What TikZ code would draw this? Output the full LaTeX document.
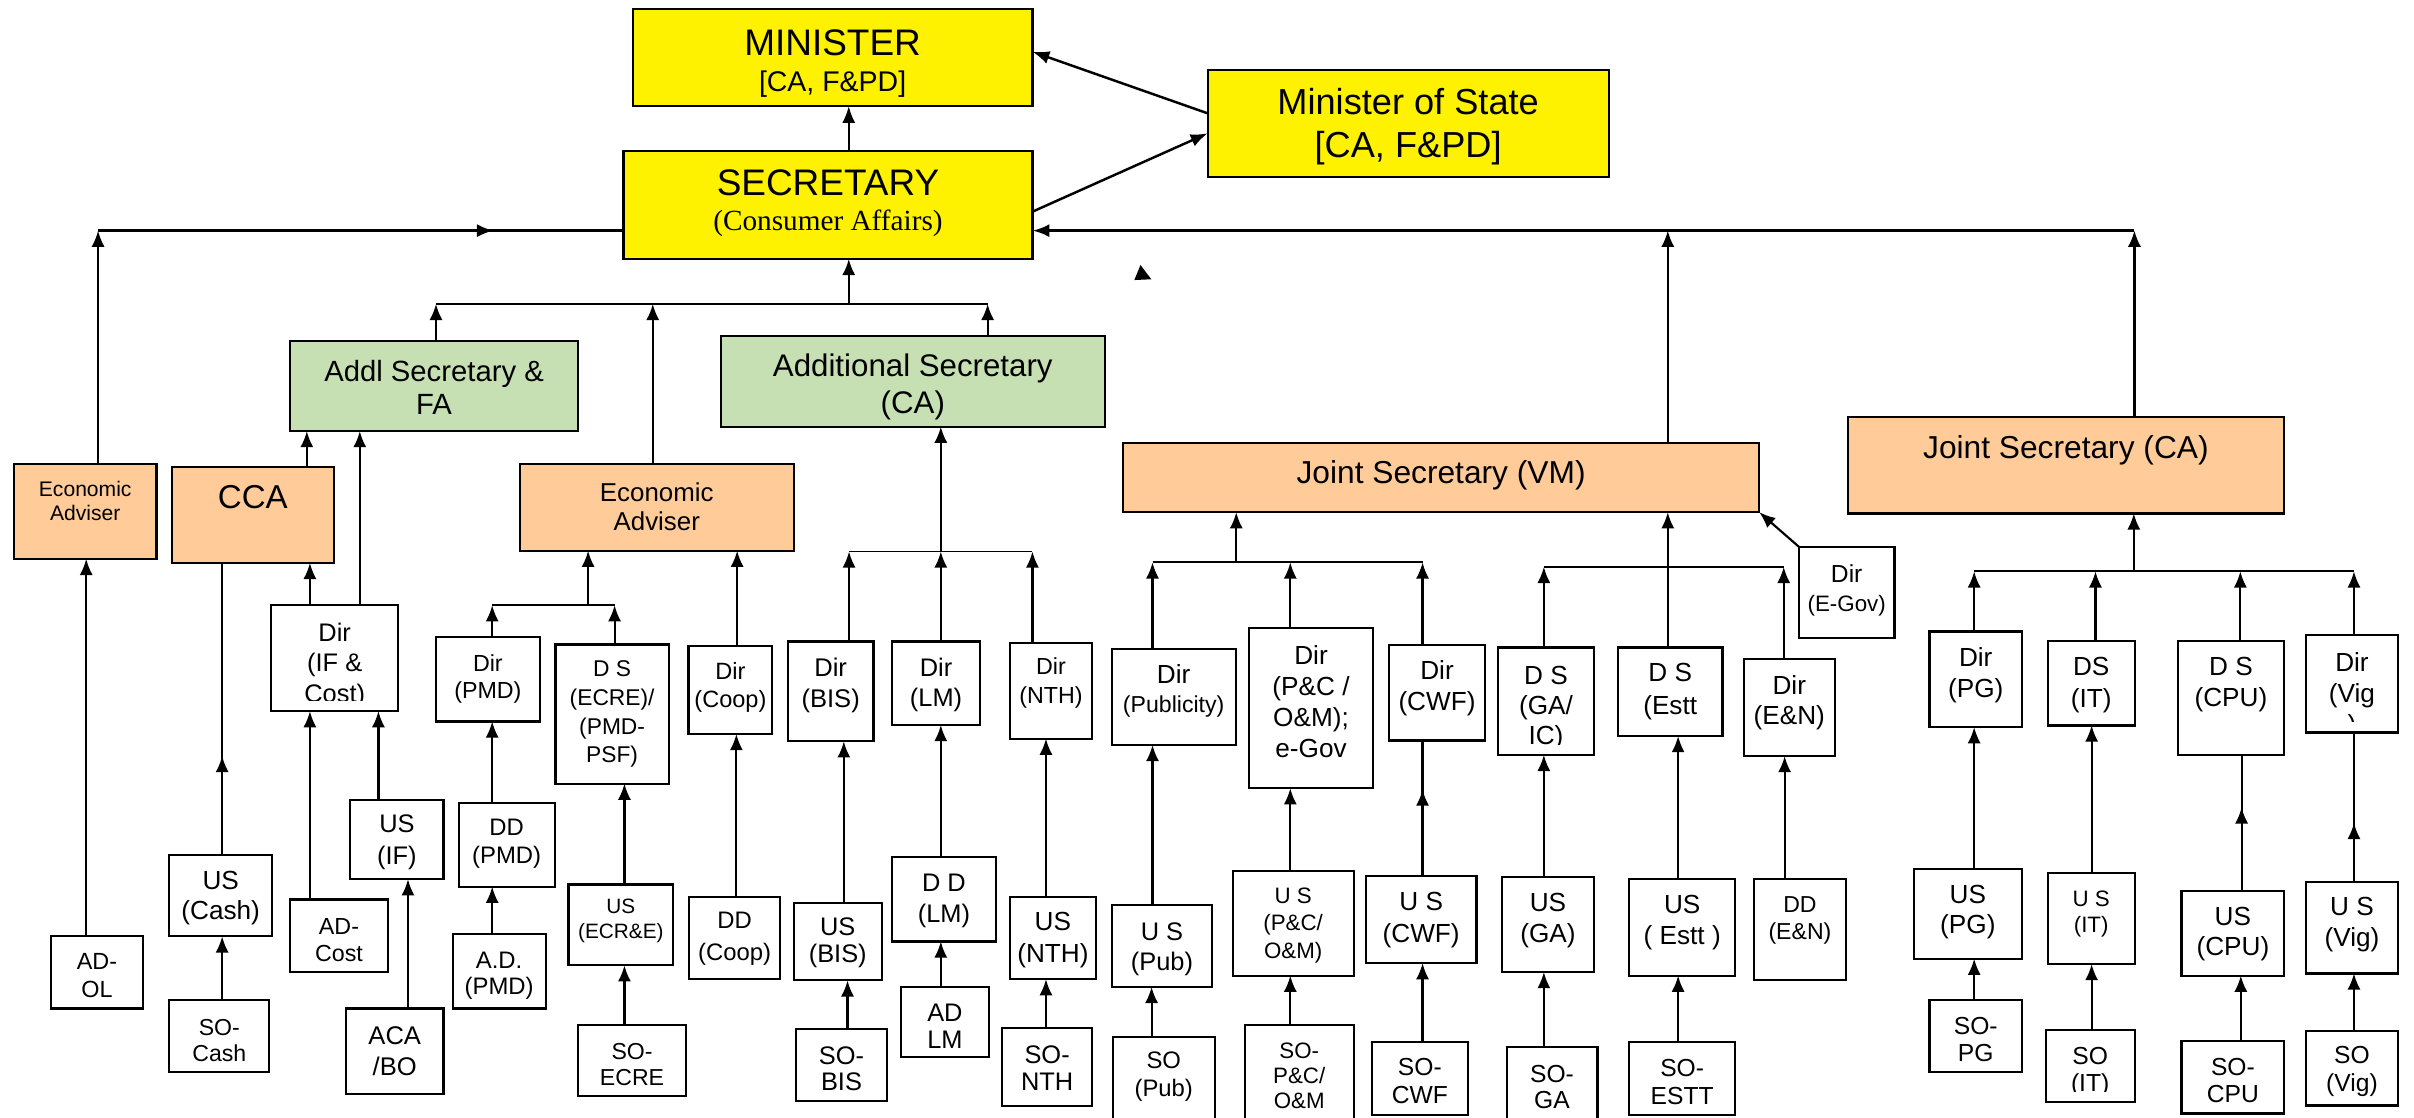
\documentclass[tikz,border=0pt]{standalone}
\usepackage{fontspec}
\setmainfont{Liberation Sans}
\newfontfamily\serifx{Liberation Serif}
\usetikzlibrary{arrows.meta}
\definecolor{green1}{HTML}{C6E0B4}
\definecolor{orange1}{HTML}{FFCC99}
\tikzset{
  box/.style={draw=black, line width=1.4pt, fill=white, inner sep=0pt, outer sep=0pt},
  yel/.style={fill=yellow},
  grn/.style={fill=green1},
  org/.style={fill=orange1},
  txt/.style={inner sep=0pt, align=center, yshift=-1.2pt},
  fs/.style 2 args={font=\fontsize{#1}{#2}\selectfont},
  arr/.style={line width=1.4pt, -{Latex[length=10.5pt,width=8.5pt]}},
  big/.style={line width=1.6pt, -{Latex[length=11pt,width=8.5pt]}},
  ln/.style={line width=1.4pt},
  thk/.style={line width=2pt},
  bus/.style={line width=1.2pt},
}
\newcommand\bx[9]{%
  \node[box,#6,minimum width={#4-#2},minimum height={#5-#3}] (#1) at ({(#2+#4)/2},{(#3+#5)/2}) {};
  \node[txt,#7] (#1-t) at ({(#2+#4)/2},#8) {#9};}
\newcommand\bxc[9]{%
  \node[box,#6,minimum width={#4-#2},minimum height={#5-#3}] (#1) at ({(#2+#4)/2},{(#3+#5)/2}) {};
  \begin{scope}
  \clip (#2,#3) rectangle (#4,{#5-7});
  \node[txt,#7] (#1-t) at ({(#2+#4)/2},#8) {#9};
  \end{scope}}
\begin{document}
\begin{tikzpicture}[x=1pt,y=-1pt]
\useasboundingbox (0,0) rectangle (1568,726);
% ---------- boxes: top ----------
\bx{min}{411}{6.1}{670.6}{68.8}{yel}{fs={18.5}{23.3}}{40}{{\fontsize{24}{24}\selectfont MINISTER}\\{}[CA, F\&PD]}
\bx{sec}{405}{97.9}{670.6}{168.2}{yel}{fs={19}{22.6}}{131}{{\fontsize{24}{24}\selectfont SECRETARY}\\{\serifx (Consumer Affairs)}}
\bx{mos}{784.4}{45.5}{1044.9}{114.8}{yel}{fs={23.5}{27.5}}{81}{Minister of State\\{}[CA, F\&PD]}
\bx{asfa}{188.5}{221.3}{375.4}{280}{grn}{fs={19}{21.7}}{250.5}{Addl Secretary \&\\FA}
\bx{asca}{468.1}{218.2}{717.7}{277.1}{grn}{fs={20.3}{24.3}}{250}{Additional Secretary\\(CA)}
\bx{ea1}{9}{301.5}{101.7}{363}{org}{fs={13.7}{15.4}}{324}{Economic\\Adviser}
\bx{cca}{111.5}{303.2}{217}{365.6}{org}{fs={21.5}{25}}{322}{CCA}
\bx{ea2}{337.7}{301.5}{515.5}{357.7}{org}{fs={16.8}{18.8}}{328}{Economic\\Adviser}
\bx{jsvm}{729.4}{287.8}{1142.7}{332.7}{org}{fs={20.6}{24}}{307.5}{Joint Secretary (VM)}
\bx{jsca}{1200.1}{271}{1483.7}{333.5}{org}{fs={20.6}{24}}{291.3}{Joint Secretary (CA)}
% ---------- left group ----------
\bx{adol}{32.9}{608.2}{93}{655.1}{}{fs={15.2}{17.7}}{632.5}{AD-\\OL}
\bx{uscash}{110}{555.4}{176.7}{608.2}{}{fs={17}{19.7}}{582}{US\\(Cash)}
\bx{socash}{110}{649.5}{174.9}{696.3}{}{fs={15}{16.9}}{674.5}{SO-\\Cash}
\bxc{dirif}{176.2}{392.8}{258.6}{461.9}{}{fs={16.5}{19.6}}{431}{Dir\\(IF \&\\Cost)}
\bx{adcost}{188.2}{584.3}{252.2}{631.2}{}{fs={15.1}{17.7}}{609.5}{AD-\\Cost}
\bx{usif}{227.5}{519.4}{288.1}{571.1}{}{fs={16.5}{20.5}}{546}{US\\(IF)}
\bx{acabo}{224.7}{655.1}{288.1}{710.4}{}{fs={16.6}{19.7}}{681.5}{ACA\\/BO}
\bx{dirpmd}{283}{413.8}{350.8}{468.6}{}{fs={15.1}{17.7}}{439.8}{Dir\\(PMD)}
\bx{ddpmd}{297.9}{521.7}{360.3}{575.9}{}{fs={15.5}{18.3}}{546.9}{DD\\(PMD)}
\bx{adpmd}{294}{606.8}{354.4}{655.1}{}{fs={15.5}{16.9}}{632.7}{A.D.\\(PMD)}
\bx{dsecre}{360.8}{418.6}{434.4}{509}{}{fs={14.8}{18.7}}{462.7}{D S\\(ECRE)/\\(PMD-\\PSF)}
\bx{usecre}{369.3}{574.5}{437.2}{627}{}{fs={13.5}{16}}{597.1}{US\\(ECR\&E)}
\bx{soecre}{375.4}{665.5}{445.7}{712.1}{}{fs={15}{17.4}}{690.2}{SO-\\ECRE}
\bx{dircoop}{447.2}{419.5}{501.7}{476.8}{}{fs={15.3}{18.3}}{445.2}{Dir\\(Coop)}
\bx{ddcoop}{447.5}{582.6}{506.8}{636}{}{fs={15.5}{20.5}}{608.4}{DD\\(Coop)}
\bx{dirbis}{511.7}{416.7}{567.4}{481.5}{}{fs={16.6}{20.5}}{444}{Dir\\(BIS)}
\bx{dirlm}{579.2}{416.7}{636.8}{470.9}{}{fs={16.5}{19.7}}{443.7}{Dir\\(LM)}
\bx{dirnth}{656}{417.8}{709.4}{479.8}{}{fs={15.1}{18.8}}{442.6}{Dir\\(NTH)}
\bx{usbis}{515.5}{586.3}{572.8}{636.8}{}{fs={16.5}{17.7}}{611.2}{US\\(BIS)}
\bx{sobis}{516.8}{668.3}{576.4}{714.9}{}{fs={16.5}{17.5}}{693}{SO-\\BIS}
\bx{ddlm}{579.2}{556.5}{647}{611.5}{}{fs={16.5}{20.3}}{583.8}{D D\\(LM)}
\bx{adlm}{585.1}{641}{642.4}{686.8}{}{fs={16.5}{17.7}}{665.5}{AD\\LM}
\bx{usnth}{655.8}{582.6}{712}{636}{}{fs={17}{21}}{609.5}{US\\(NTH)}
\bx{sonth}{650.9}{667.7}{709.4}{718.3}{}{fs={16.5}{17.4}}{692.5}{SO-\\NTH}
% ---------- middle group ----------
\bx{dirpub}{722.1}{421.4}{802.6}{483.9}{}{fs={17}{18.8}}{447.6}{Dir\\{\fontsize{15}{15}\selectfont (Publicity)}}
\bx{dirpc}{811.3}{407.8}{891.8}{512}{}{fs={17}{20.1}}{454.7}{Dir\\(P\&C /\\O\&M);\\e-Gov}
\bx{dircwf}{902.1}{418.8}{964.7}{481}{}{fs={17}{20.3}}{445.8}{Dir\\(CWF)}
\bx{uspub}{722.1}{588}{787.4}{641}{}{fs={16.5}{19.6}}{615.2}{U S\\(Pub)}
\bx{sopub}{722.8}{673.3}{789}{732}{}{fs={15.5}{18.2}}{698.3}{SO\\(Pub)}
\bx{uspc}{800.7}{565.5}{879.2}{633.7}{}{fs={14.5}{18}}{599.8}{U S\\(P\&C/\\O\&M)}
\bx{sopc}{808.6}{665.5}{879.2}{732}{}{fs={14.5}{16.2}}{697.3}{SO-\\P\&C/\\O\&M}
\bx{uscwf}{887.2}{569.2}{959}{625.6}{}{fs={17}{20.8}}{596.4}{U S\\(CWF)}
\bx{socwf}{891.1}{676.8}{953.4}{724}{}{fs={16}{18.2}}{701}{SO-\\CWF}
\bxc{dsga}{973}{420.6}{1035.3}{490.3}{}{fs={17}{19.5}}{459}{D S\\(GA/\\IC)}
\bx{dsestt}{1050.9}{420.6}{1118.8}{478.1}{}{fs={17}{20.9}}{448}{D S\\(Estt}
\bx{diren}{1132.7}{428.1}{1191.7}{491.1}{}{fs={17}{19.9}}{455.2}{Dir\\(E\&N)}
\bx{diregov}{1168.5}{355.2}{1230.5}{414.2}{}{fs={16}{18.8}}{382}{Dir\\{\fontsize{14.5}{14.5}\selectfont (E-Gov)}}
\bx{usga}{975.6}{569.8}{1035.3}{631.4}{}{fs={17}{20.2}}{596.7}{US\\(GA)}
\bx{soga}{978.6}{680}{1037.6}{732}{}{fs={16}{17.4}}{704.8}{SO-\\GA}
\bx{usestt}{1058.2}{571.2}{1127.1}{633.7}{}{fs={17}{20.3}}{598.2}{US\\( Estt )}
\bx{soestt}{1058.2}{676.8}{1127.1}{724}{}{fs={16}{18.2}}{701.5}{SO-\\ESTT}
\bx{dden}{1139.3}{571.2}{1199}{636.3}{}{fs={15}{17.4}}{596.7}{DD\\(E\&N)}
% ---------- right group ----------
\bx{dirpg}{1253.3}{410.2}{1313.3}{472.3}{}{fs={17}{19.7}}{437.4}{Dir\\(PG)}
\bx{dsit}{1330.1}{416.5}{1386.5}{471.2}{}{fs={17}{20.8}}{443.7}{DS\\(IT)}
\bx{dscpu}{1414.5}{416.5}{1483.7}{490.3}{}{fs={17}{20.2}}{443.4}{D S\\(CPU)}
\bxc{dirvig}{1497.7}{412.5}{1557.7}{475.8}{}{fs={17}{20.2}}{450.5}{Dir\\(Vig\\)}
\bx{uspg}{1243.1}{564.3}{1313.3}{622.7}{}{fs={17}{19.6}}{591.2}{US\\(PG)}
\bx{sopg}{1253.3}{649.6}{1313.3}{696.4}{}{fs={16}{17.4}}{674}{SO-\\PG}
\bx{usit}{1330.1}{567.2}{1386.5}{626.2}{}{fs={14.5}{17.3}}{592.4}{U S\\(IT)}
\bxc{soit}{1328.8}{669}{1386.5}{715.8}{}{fs={16}{17.9}}{695}{SO\\(IT)}
\bx{uscpu}{1417}{578.8}{1483.7}{633.7}{}{fs={17}{19.7}}{605.7}{US\\(CPU)}
\bx{socpu}{1417}{676.2}{1483.7}{723.3}{}{fs={16}{17.9}}{700.7}{SO-\\CPU}
\bx{usvig}{1497.7}{572.7}{1557.7}{632.3}{}{fs={17}{19.6}}{599.3}{U S\\(Vig)}
\bx{sovig}{1497.7}{669.6}{1557.7}{718.1}{}{fs={16}{18.2}}{694.6}{SO\\(Vig)}
% ---------- connectors: top ----------
\draw[big] (551.3,0 |- sec.north) -- (551.3,0 |- min.south);
\draw[big] (mos.west |- 0,73.6) -- (min.east |- 0,33.6);
\draw[big] (sec.east |- 0,137.5) -- (mos.west |- 0,86.6);
\coordinate (jl) at (63.7,149.8);
\coordinate (jr) at (1386.4,149.8);
\draw[thk] (jl) -- (sec.west |- jl);
\draw[thk,-{Latex[length=11pt,width=8.5pt]}] (jl) -- (320.8,149.8);
\draw[arr] (ea1.north -| jl) -- (jl);
\draw[thk,-{Latex[length=11pt,width=8.5pt]}] (jr) -- (sec.east |- jr);
\draw[arr] (1083.3,0 |- jsvm.north) -- (1083.3,0 |- jr);
\draw[arr] (jsca.north -| jr) -- (jr);
\fill (740.8,172.1) -- (736.8,181.9) -- (747.8,181.4) -- cycle;
\coordinate (sb) at (551.3,197.4);
\coordinate (b1l) at (283.2,197.4);
\coordinate (b1r) at (641.5,197.4);
\draw[arr] (sb) -- (sec.south -| sb);
\draw[ln] (b1l) -- (b1r);
\draw[arr] (asfa.north -| b1l) -- (b1l);
\draw[arr] (424,0 |- ea2.north) -- (424,197.4);
\draw[arr] (asca.north -| b1r) -- (b1r);
% ---------- left ----------
\draw[arr] (56,0 |- adol.north) -- (56,0 |- ea1.south);
\draw[arr] (199.3,0 |- cca.north) -- (199.3,0 |- asfa.south);
\draw[arr] (201.3,0 |- dirif.north) -- (201.3,0 |- cca.south);
\draw[arr] (233.7,0 |- dirif.north) -- (233.7,0 |- asfa.south);
\draw[ln] (144.3,0 |- uscash.north) -- (144.3,0 |- cca.south);
\draw[arr] (144.3,0 |- uscash.north) -- (144.3,491);
\draw[arr] (144.3,0 |- socash.north) -- (144.3,0 |- uscash.south);
\draw[arr] (201.3,0 |- adcost.north) -- (201.3,0 |- dirif.south);
\draw[arr] (245.8,0 |- usif.north) -- (245.8,0 |- dirif.south);
\draw[arr] (265,0 |- acabo.north) -- (265,0 |- usif.south);
\coordinate (b2l) at (319.7,393.1);
\coordinate (b2r) at (399.2,393.1);
\draw[ln] (b2l) -- (b2r);
\draw[arr] (dirpmd.north -| b2l) -- (b2l);
\draw[arr] (dsecre.north -| b2r) -- (b2r);
\draw[arr] (382,393.1) -- (382,0 |- ea2.south);
\draw[arr] (319.7,0 |- ddpmd.north) -- (319.7,0 |- dirpmd.south);
\draw[arr] (319.7,0 |- adpmd.north) -- (319.7,0 |- ddpmd.south);
\draw[arr] (405.6,0 |- usecre.north) -- (405.6,0 |- dsecre.south);
\draw[arr] (405.6,0 |- soecre.north) -- (405.6,0 |- usecre.south);
\draw[arr] (478.8,0 |- dircoop.north) -- (478.8,0 |- ea2.south);
\draw[arr] (478.3,0 |- ddcoop.north) -- (478.3,0 |- dircoop.south);
\coordinate (b3l) at (551.5,358.2);
\coordinate (b3m) at (611.1,358.2);
\coordinate (b3r) at (670.6,358.2);
\draw[bus] (b3l) -- (b3r);
\draw[arr] (dirbis.north -| b3l) -- (b3l);
\draw[arr] (dirlm.north -| b3m) -- (b3m);
\draw[arr] (b3m) -- (asca.south -| b3m);
\draw[arr] (dirnth.north -| b3r) -- (b3r);
\draw[arr] (548.1,0 |- usbis.north) -- (548.1,0 |- dirbis.south);
\draw[arr] (550.5,0 |- sobis.north) -- (550.5,0 |- usbis.south);
\draw[arr] (611.1,0 |- ddlm.north) -- (611.1,0 |- dirlm.south);
\draw[arr] (611.1,0 |- adlm.north) -- (611.1,0 |- ddlm.south);
\draw[arr] (679.4,0 |- usnth.north) -- (679.4,0 |- dirnth.south);
\draw[arr] (679.4,0 |- sonth.north) -- (679.4,0 |- usnth.south);
% ---------- middle ----------
\coordinate (b4l) at (748.6,365.3);
\coordinate (b4m) at (803,365.3);
\coordinate (b4c) at (838.1,365.3);
\coordinate (b4r) at (924,365.3);
\draw[bus] (b4l) -- (b4r);
\draw[arr] (b4m) -- (jsvm.south -| b4m);
\draw[arr] (dirpub.north -| b4l) -- (b4l);
\draw[arr] (dirpc.north -| b4c) -- (b4c);
\draw[arr] (dircwf.north -| b4r) -- (b4r);
\draw[arr] (748.6,0 |- uspub.north) -- (748.6,0 |- dirpub.south);
\draw[arr] (748,0 |- sopub.north) -- (748,0 |- uspub.south);
\draw[arr] (838.1,0 |- uspc.north) -- (838.1,0 |- dirpc.south);
\draw[arr] (838.1,0 |- sopc.north) -- (838.1,0 |- uspc.south);
\draw[ln] (924,0 |- uscwf.north) -- (924,0 |- dircwf.south);
\draw[arr] (924,0 |- uscwf.north) -- (924,512.8);
\draw[arr] (924,0 |- socwf.north) -- (924,0 |- uscwf.south);
\coordinate (b5l) at (1002.8,368.2);
\coordinate (b5r) at (1158.6,368.2);
\draw[bus] (b5l) -- (b5r);
\draw[arr] (dsga.north -| b5l) -- (b5l);
\draw[arr] (diren.north -| b5r) -- (b5r);
\draw[arr] (1083.3,0 |- dsestt.north) -- (1083.3,0 |- jsvm.south);
\draw[arr] (diregov.north west) -- (jsvm.south east);
\draw[arr] (1002.8,0 |- usga.north) -- (1002.8,0 |- dsga.south);
\draw[arr] (1002.8,0 |- soga.north) -- (1002.8,0 |- usga.south);
\draw[arr] (1090,0 |- usestt.north) -- (1090,0 |- dsestt.south);
\draw[arr] (1090,0 |- soestt.north) -- (1090,0 |- usestt.south);
\draw[arr] (1159.2,0 |- dden.north) -- (1159.2,0 |- diren.south);
% ---------- right ----------
\coordinate (b6l) at (1282.3,371.1);
\coordinate (b6a) at (1361.1,371.1);
\coordinate (b6m) at (1386,371.1);
\coordinate (b6b) at (1455.2,371.1);
\coordinate (b6r) at (1529,371.1);
\draw[bus] (b6l) -- (b6r);
\draw[arr] (b6m) -- (jsca.south -| b6m);
\draw[arr] (dirpg.north -| b6l) -- (b6l);
\draw[arr] (dsit.north -| b6a) -- (b6a);
\draw[arr] (dscpu.north -| b6b) -- (b6b);
\draw[arr] (dirvig.north -| b6r) -- (b6r);
\draw[arr] (1282.3,0 |- uspg.north) -- (1282.3,0 |- dirpg.south);
\draw[arr] (1282.3,0 |- sopg.north) -- (1282.3,0 |- uspg.south);
\draw[arr] (1358.6,0 |- usit.north) -- (1358.6,0 |- dsit.south);
\draw[arr] (1358.6,0 |- soit.north) -- (1358.6,0 |- usit.south);
\draw[ln] (1456,0 |- uscpu.north) -- (1456,0 |- dscpu.south);
\draw[arr] (1456,0 |- uscpu.north) -- (1456,524.4);
\draw[arr] (1455.5,0 |- socpu.north) -- (1455.5,0 |- uscpu.south);
\draw[ln] (1529,0 |- usvig.north) -- (1529,0 |- dirvig.south);
\draw[arr] (1529,0 |- usvig.north) -- (1529,534.5);
\draw[arr] (1529,0 |- sovig.north) -- (1529,0 |- usvig.south);
\end{tikzpicture}
\end{document}
